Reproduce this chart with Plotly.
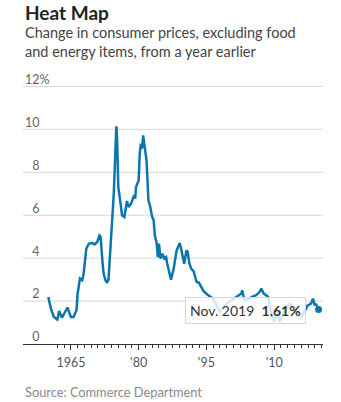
import plotly.graph_objects as go
import pandas as pd

# ---- data ----
dates = [
    "1960-01", "1960-08", "1961-04", "1962-01", "1962-06", "1963-01", "1963-05", "1964-04",
    "1965-01", "1965-08", "1966-04", "1966-07", "1967-01", "1967-07", "1967-11", "1968-06",
    "1969-01", "1969-10", "1970-04", "1970-11", "1971-05", "1971-08", "1972-01", "1972-04",
    "1972-09", "1973-01", "1973-05", "1973-10", "1974-03", "1974-07", "1975-01", "1975-02",
    "1975-04", "1975-07", "1976-01", "1976-05", "1976-11", "1977-06", "1977-10", "1978-05",
    "1979-01", "1979-04", "1979-06", "1980-01", "1980-04", "1980-07", "1980-10", "1981-01",
    "1981-04", "1981-10", "1982-03", "1982-07", "1983-01", "1983-05", "1983-08", "1984-01",
    "1984-04", "1984-07", "1984-11", "1985-04", "1985-09", "1986-02", "1986-05", "1986-11",
    "1987-03", "1987-10", "1988-06", "1989-02", "1989-05", "1989-11", "1990-02", "1990-08",
    "1990-11", "1991-04", "1991-09", "1992-03", "1992-11", "1993-05", "1994-01", "1994-06",
    "1995-06", "1996-07", "1997-04", "1998-01", "1998-10", "1999-06", "2000-07", "2001-09",
    "2002-10", "2002-12", "2003-06", "2004-07", "2005-01", "2006-01", "2006-10", "2007-03",
    "2007-09", "2008-04", "2008-09", "2009-05", "2010-01", "2010-11", "2011-03", "2012-01",
    "2013-06", "2014-11", "2016-01", "2016-09", "2017-06", "2018-03", "2018-08", "2019-01",
    "2019-04", "2019-09", "2019-11",
]
core_pce = [
    2.19, 1.65, 1.26, 1.14, 1.54, 1.23, 1.34, 1.70,
    1.26, 1.26, 1.57, 2.35, 3.05, 2.97, 3.28, 4.44,
    4.68, 4.70, 4.64, 4.75, 5.06, 5.00, 3.82, 3.28,
    2.97, 2.85, 3.00, 4.50, 5.80, 7.00, 9.80, 10.14,
    9.49, 7.31, 6.54, 6.00, 5.92, 6.66, 6.38, 6.54,
    6.93, 6.77, 7.31, 7.62, 8.87, 9.33, 9.10, 9.72,
    9.33, 8.56, 6.69, 6.46, 5.92, 5.76, 5.06, 4.68,
    4.05, 4.68, 3.98, 4.21, 3.98, 4.05, 3.74, 3.28,
    3.00, 3.50, 4.36, 4.70, 4.52, 4.00, 3.74, 4.36,
    4.30, 3.74, 3.50, 3.39, 2.89, 2.86, 2.60, 2.45,
    2.27, 2.11, 1.80, 1.49, 1.72, 1.88, 2.03, 2.19,
    2.35, 2.50, 2.03, 2.11, 2.19, 2.27, 2.42, 2.58,
    2.35, 2.27, 2.19, 1.42, 1.02, 1.49, 1.02, 1.42,
    1.88, 1.57, 1.26, 1.49, 1.80, 1.88, 2.11, 1.80,
    1.88, 1.65, 1.61,
]
x_tickvals = ["1965-01-01", "1980-01-01", "1995-01-01", "2010-01-01"]
x_ticktext = ["1965", "'80", "'95", "'10"]
y_tickvals = [0, 2, 4, 6, 8, 10, 12]
y_ticktext = ["\u20070", "\u20072", "\u20074", "\u20076", "\u20078", "10", "12%"]

title = "<b>Heat Map</b>"
subtitle = "Change in consumer prices, excluding food<br>and energy items, from a year earlier"
source = "Source: Commerce Department"
tip_date = "Nov. 2019"

LINE = "#0a76ad"
FONT = "Lato"
GRID = "#d8d8d8"
X_RANGE = ["1954-05-28", "2020-10-23"]
Y_RANGE = [0, 12.02]

x = pd.to_datetime(dates)
minor_vals = pd.date_range("1962-01-01", "2020-12-31", freq="18MS")

# gridlines as a background line trace spanning the x range at each y tick value
gx, gy = [], []
for v in y_tickvals[1:]:
    gx += [X_RANGE[0], X_RANGE[1], None]
    gy += [v, v, None]

fig = go.Figure()
fig.add_trace(go.Scatter(x=gx, y=gy, mode="lines", line=dict(color=GRID, width=1),
                         hoverinfo="skip", cliponaxis=False))
fig.add_trace(go.Scatter(x=x, y=core_pce, mode="lines",
                         line=dict(color=LINE, width=2.5), hoverinfo="skip"))
fig.add_trace(go.Scatter(x=[x[-1]], y=[core_pce[-1]], mode="markers",
                         marker=dict(color=LINE, size=7), hoverinfo="skip"))

fig.update_layout(
    width=341, height=402,
    margin=dict(l=23, r=18, t=86, b=58),
    paper_bgcolor="white", plot_bgcolor="white",
    showlegend=False,
    font=dict(family=FONT, color="#555"),
    xaxis=dict(
        type="date",
        range=X_RANGE,
        tickmode="array", tickvals=x_tickvals, ticktext=x_ticktext,
        ticks="outside", ticklen=5, tickcolor="#333", tickwidth=1,
        showline=True, linecolor="#333", linewidth=1,
        showgrid=False, zeroline=False,
        tickfont=dict(size=12.5, color="#555", family=FONT),
        ticklabelstandoff=2,
        minor=dict(tickmode="array", tickvals=minor_vals, ticks="outside",
                   ticklen=3, tickcolor="#333", tickwidth=1, showgrid=False),
    ),
    yaxis=dict(
        range=Y_RANGE,
        tickmode="array", tickvals=y_tickvals, ticktext=y_ticktext,
        ticklabelposition="inside", ticklabelshift=-7, ticklabelstandoff=-1,
        ticklabeloverflow="allow",
        ticks="", showgrid=False,
        zeroline=False, showline=False,
        tickfont=dict(size=12.5, color="#666", family=FONT),
    ),
)

fig.add_annotation(xref="paper", yref="paper", x=0, y=1, xanchor="left", yanchor="middle",
                   yshift=74, text=title, showarrow=False,
                   font=dict(size=19, color="#222", family=FONT))
fig.add_annotation(xref="paper", yref="paper", x=0, y=1, xanchor="left", yanchor="middle",
                   yshift=44, text=subtitle, showarrow=False, align="left",
                   font=dict(size=14.5, color="#444", family=FONT))
fig.add_annotation(xref="paper", yref="paper", x=0, y=0, xanchor="left", yanchor="middle",
                   yshift=-48, text=source, showarrow=False,
                   font=dict(size=12.8, color="#888", family=FONT))
fig.add_annotation(x=x[-1], y=core_pce[-1], ax=-73, ay=1, axref="pixel", ayref="pixel",
                   showarrow=True, arrowcolor="rgba(0,0,0,0)",
                   text=f"{tip_date}  <b>{core_pce[-1]:.2f}%</b>",
                   bgcolor="rgba(255,255,255,0.82)", bordercolor="#d6d6d6", borderwidth=1,
                   borderpad=4, font=dict(size=14, color="#333", family=FONT))

fig.write_html("out.html")
